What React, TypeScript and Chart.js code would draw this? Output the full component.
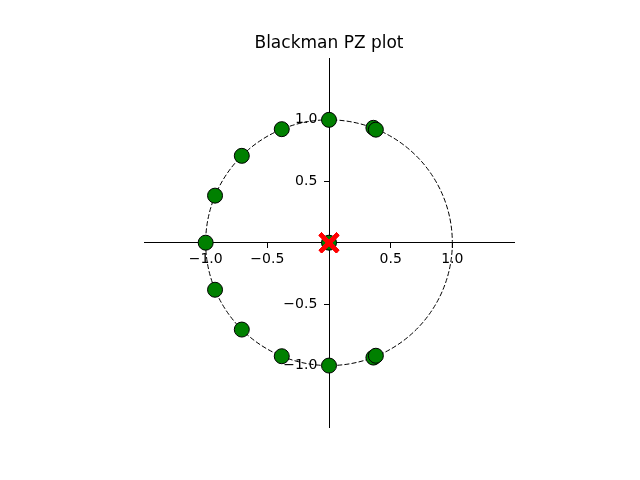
import React, { useEffect, useRef } from "react";
import { Chart, registerables } from "chart.js";

Chart.register(...registerables);

const titleText = "Blackman PZ plot";
const zeroRe = [-1.0, -0.924, -0.707, -0.383, 0.0, 0.36, 0.38, -0.924, -0.707, -0.383, 0.0, 0.36, 0.38, 0.0];
const zeroIm = [0.0, 0.383, 0.707, 0.924, 1.0, 0.935, 0.92, -0.383, -0.707, -0.924, -1.0, -0.935, -0.92, 0.0];
const poleRe = [0, 0, 0, 0, 0, 0, 0, 0, 0, 0, 0, 0, 0, 0];
const poleIm = [0, 0, 0, 0, 0, 0, 0, 0, 0, 0, 0, 0, 0, 0];
const tickValues = [-1.0, -0.5, 0.0, 0.5, 1.0];
const axisMin = -1.5;
const axisMax = 1.5;
const unitRadius = 1.0;

const fmt = (v: number) => {
  if (Math.abs(v) < 1e-9) return "";
  const s = Math.abs(v).toFixed(1);
  return v < 0 ? "\u2212" + s : s;
};

const unitCirclePlugin = {
  id: "unitCircle",
  beforeDatasetsDraw(chart: any) {
    const { ctx, scales } = chart;
    const cx = scales.x.getPixelForValue(0);
    const cy = scales.y.getPixelForValue(0);
    const rx = Math.abs(scales.x.getPixelForValue(unitRadius) - cx);
    const ry = Math.abs(scales.y.getPixelForValue(unitRadius) - cy);
    ctx.save();
    ctx.beginPath();
    ctx.setLineDash([5, 2.2]);
    ctx.lineWidth = 1;
    ctx.strokeStyle = "#000";
    ctx.ellipse(cx, cy, rx, ry, 0, 0, Math.PI * 2);
    ctx.stroke();
    ctx.restore();
  },
};

export default function App() {
  const ref = useRef<HTMLCanvasElement | null>(null);
  useEffect(() => {
    if (!ref.current) return;
    const axisCommon = {
      type: "linear" as const,
      min: axisMin,
      max: axisMax,
      afterBuildTicks: (s: any) => {
        s.ticks = tickValues.map((v) => ({ value: v }));
      },
      grid: { display: true, drawOnChartArea: false, drawTicks: true, tickLength: 5, color: "#000", tickWidth: 1 },
      border: { display: true, color: "#000", width: 1 },
    };
    const tickFont = { family: "DejaVu Sans", size: 14 };
    const chart = new Chart(ref.current, {
      type: "scatter",
      data: {
        datasets: [
          {
            label: "zeros",
            data: zeroRe.map((x, i) => ({ x, y: zeroIm[i] })),
            backgroundColor: "#008000",
            borderColor: "#000",
            borderWidth: 1,
            pointRadius: 7.5,
            pointHoverRadius: 7.5,
            order: 1,
          },
          {
            label: "poles",
            data: poleRe.map((x, i) => ({ x, y: poleIm[i] })),
            pointStyle: "crossRot",
            borderColor: "#ff0000",
            backgroundColor: "#ff0000",
            borderWidth: 4,
            pointRadius: 12.5,
            pointHoverRadius: 12.5,
            order: 0,
          },
        ],
      },
      options: {
        responsive: false,
        animation: false,
        layout: { padding: { left: 144, right: 126, top: 0, bottom: 53 } },
        plugins: {
          legend: { display: false },
          tooltip: { enabled: false },
          title: {
            display: true,
            text: titleText,
            color: "#000",
            font: { family: "DejaVu Sans", size: 17, weight: "normal" },
            padding: { top: 33, bottom: 5 },
          },
        },
        scales: {
          x: {
            ...axisCommon,
            position: { y: 0 },
            ticks: { color: "#000", padding: 3, font: tickFont, callback: (v: any) => fmt(Number(v)) },
          },
          y: {
            ...axisCommon,
            position: { x: 0 },
            ticks: {
              color: "#000",
              padding: 3,
              font: tickFont,
              callback: (v: any) => {
                const s = fmt(Number(v));
                return s ? s + "  \u2009" : s;
              },
            },
          },
        },
      } as any,
      plugins: [unitCirclePlugin],
    });
    return () => chart.destroy();
  }, []);
  return (
    <div style={{ position: "absolute", left: 0, top: 0, width: 640, height: 480, background: "#fff" }}>
      <canvas ref={ref} width={640} height={480} />
    </div>
  );
}
